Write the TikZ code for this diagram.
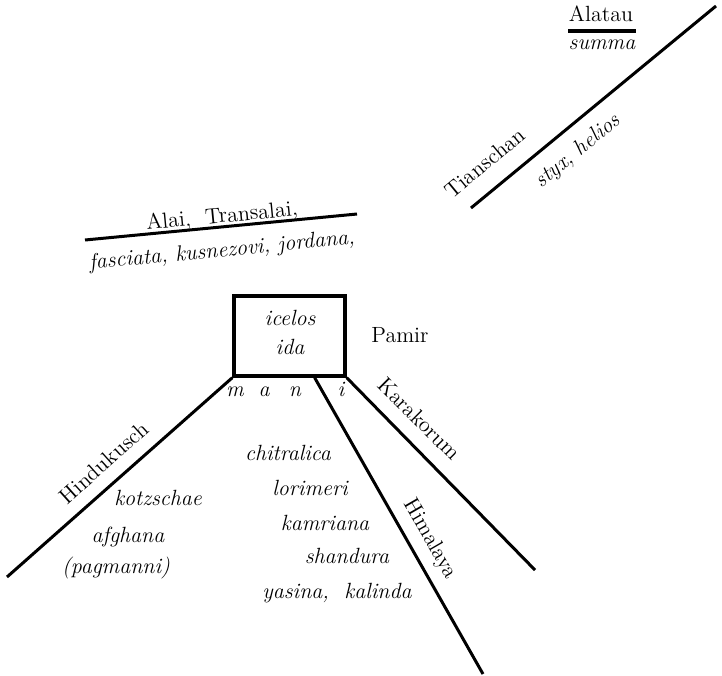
\documentclass[tikz,border=0pt]{standalone}
\usetikzlibrary{calc}
\begin{document}
\begin{tikzpicture}[x=0.5pt,y=-0.5pt,
  font=\fontsize{11}{13}\selectfont,
  ridge/.style={line width=1.5pt},
  lbl/.style={inner sep=0pt, text height=1.6ex, text depth=0.3ex},
  sp/.style={lbl, font=\fontsize{11}{13}\selectfont\itshape}]
\useasboundingbox (0,0) rectangle (722,675);

% Pamir box
\node[draw, line width=1.7pt, minimum width=55.5pt, minimum height=40pt, inner sep=0pt] (pamirbox) at (289.5,336) {};
\node[sp] (icelos) at (290,320) {icelos};
\node[sp] (ida) at (290,349) {ida};
\node[lbl] (pamir) at (400,337) {Pamir};

% free ends
\coordinate (hkend) at (7,577);
\coordinate (kkend) at (535,570);
\coordinate (hmstart) at ($(pamirbox.south west)!0.72!(pamirbox.south east)$);
\coordinate (hmend) at (483,674);
\coordinate (ts1) at (471,208);
\coordinate (ts2) at (716,6);
\coordinate (al1) at (85,240);
\coordinate (al2) at (357,214);
\coordinate (at1) at (568,31);
\coordinate (at2) at (636,31);

\draw[ridge] (pamirbox.south west) -- (hkend);
\draw[ridge] (pamirbox.south east) -- (kkend);
\draw[ridge] (hmstart) -- (hmend);
\draw[ridge] (ts1) -- (ts2);
\draw[ridge] (al1) -- (al2);
\draw[line width=1.8pt] (at1) -- (at2);

% Alatau
\node[lbl] (alatau) at (601,16) {Alatau};
\node[sp] (summa) at (602,44) {summa};

% Tianschan
\node[lbl, rotate=39.5] (tianschan) at (486,164) {Tianschan};
\node[sp, rotate=39.5] (styx) at (578,151) {styx, helios};

% Alai
\node[lbl, rotate=5.5] (alai) at (222,217) {Alai,\ \ Transalai,};
\node[sp, rotate=5.5] (fasciata) at (222,251) {fasciata, kusnezovi, jordana,};

% m a n i
\node[sp] (lm) at (235,391) {m};
\node[sp] (la) at (264,391) {a};
\node[sp] (ln) at (295,391) {n};
\node[sp] (li) at (341,391) {i};

% Hindukusch
\node[lbl, rotate=42] (hindukusch) at (105,464) {Hindukusch};
\node[sp] (kotzschae) at (158,500) {kotzschae};
\node[sp] (afghana) at (128,537) {afghana};
\node[sp] (pagmanni) at (116,568) {(pagmanni)};

% Karakorum
\node[lbl, rotate=-45] (karakorum) at (418,420) {Karakorum};

% central species
\node[sp] (chitralica) at (288,455) {chitralica};
\node[sp] (lorimeri) at (310,490) {lorimeri};
\node[sp] (kamriana) at (325,525) {kamriana};
\node[sp] (shandura) at (347,558) {shandura};
\node[sp] (yasina) at (337,593) {yasina,\ \ kalinda};

% Himalaya
\node[lbl, rotate=-60] (himalaya) at (430,539) {Himalaya};
\end{tikzpicture}
\end{document}
